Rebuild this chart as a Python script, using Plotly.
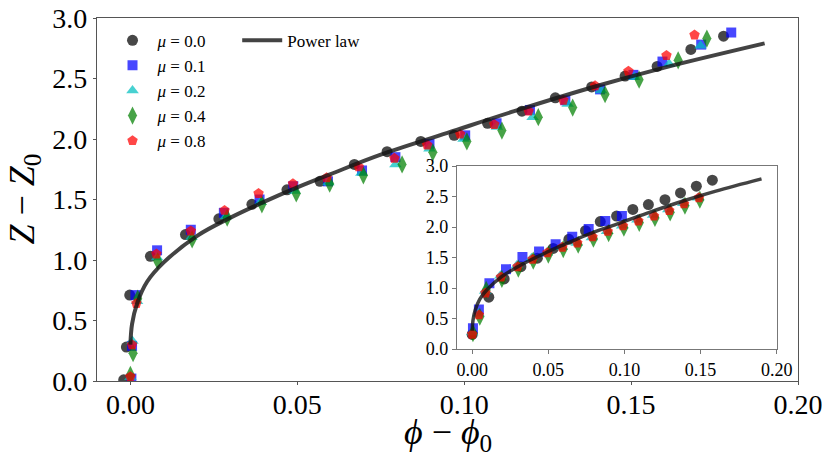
import plotly.graph_objects as go

# main panel data: phi - phi0, Z - Z0
mu_labels = ['0.0', '0.1', '0.2', '0.4', '0.8']

main_x_00 = [-0.002, -0.0012, -0.0002, 0.006, 0.0165, 0.0265, 0.0364, 0.0469, 0.0568, 0.0671, 0.0769,
             0.087, 0.097, 0.107, 0.1173, 0.1273, 0.1382, 0.1482, 0.1578, 0.1679, 0.1777]
main_y_00 = [0.01, 0.28, 0.71, 1.03, 1.21, 1.34, 1.46, 1.58, 1.65, 1.79, 1.895,
             1.98, 2.03, 2.13, 2.23, 2.34, 2.43, 2.52, 2.60, 2.74, 2.85]

main_x_01 = [0.0003, 0.0005, 0.0015, 0.008, 0.0181, 0.028, 0.0387, 0.0488, 0.0592, 0.0694, 0.0794,
             0.0896, 0.1003, 0.1097, 0.1197, 0.1303, 0.1407, 0.1507, 0.1594, 0.171, 0.180]
main_y_01 = [0.02, 0.29, 0.71, 1.08, 1.25, 1.39, 1.50, 1.61, 1.65, 1.74, 1.85,
             1.96, 2.03, 2.13, 2.24, 2.32, 2.41, 2.53, 2.64, 2.78, 2.88]

main_x_02 = [0.0, 0.0006, 0.002, 0.008, 0.0183, 0.0286, 0.039, 0.0492, 0.0593, 0.0692,
             0.0794, 0.0896, 0.0998, 0.1098, 0.1205, 0.131, 0.141, 0.151, 0.1614, 0.1708]
main_y_02 = [0.03, 0.33, 0.66, 1.02, 1.19, 1.36, 1.48, 1.57, 1.64, 1.72,
             1.79, 1.92, 2.00, 2.10, 2.18, 2.29, 2.40, 2.51, 2.62, 2.77]

main_x_04 = [0.0, 0.0008, 0.0022, 0.0082, 0.0185, 0.029, 0.0394, 0.0497, 0.0597, 0.0698,
             0.0814, 0.0906, 0.1008, 0.1113, 0.1222, 0.1325, 0.1422, 0.1524, 0.1641, 0.1727]
main_y_04 = [0.05, 0.23, 0.68, 0.99, 1.17, 1.35, 1.46, 1.55, 1.63, 1.70,
             1.79, 1.89, 1.98, 2.07, 2.18, 2.26, 2.37, 2.49, 2.65, 2.83]

main_x_08 = [0.0, 0.0005, 0.0018, 0.0078, 0.0181, 0.0282, 0.0384, 0.0487, 0.0588, 0.0684,
             0.0791, 0.0889, 0.0988, 0.109, 0.1193, 0.1297, 0.1392, 0.1492, 0.1606, 0.169]
main_y_08 = [0.036, 0.30, 0.64, 1.05, 1.24, 1.41, 1.55, 1.63, 1.68, 1.77,
             1.84, 1.95, 2.04, 2.12, 2.23, 2.32, 2.44, 2.56, 2.69, 2.86]

# inset data
ins_x_00 = [0.0, 0.0109, 0.021, 0.032, 0.0428, 0.0532, 0.0635, 0.0744, 0.0841, 0.0948, 0.1055,
            0.1157, 0.1266, 0.1368, 0.1472, 0.1577]
ins_y_00 = [0.24, 0.85, 1.15, 1.35, 1.49, 1.65, 1.80, 1.94, 2.09, 2.18, 2.29,
            2.37, 2.45, 2.56, 2.67, 2.77]

ins_x_01 = [0.0005, 0.0044, 0.0113, 0.0222, 0.033, 0.0439, 0.0548, 0.0657, 0.0765, 0.0874, 0.0983]
ins_y_01 = [0.34, 0.65, 1.08, 1.31, 1.51, 1.60, 1.72, 1.84, 1.97, 2.10, 2.18]

ins_x_02 = [0.0, 0.0042, 0.0085, 0.0185, 0.0293, 0.039, 0.049, 0.0588, 0.0686, 0.0786, 0.0885,
            0.0985, 0.1085, 0.1188, 0.1288, 0.1386, 0.1484]
ins_y_02 = [0.27, 0.58, 0.95, 1.20, 1.37, 1.49, 1.58, 1.67, 1.74, 1.83, 1.93,
            2.02, 2.12, 2.20, 2.29, 2.39, 2.48]

ins_x_04 = [0.0005, 0.005, 0.0092, 0.0195, 0.0303, 0.0401, 0.05, 0.0598, 0.0696, 0.0796, 0.0896,
            0.0996, 0.1097, 0.12, 0.13, 0.1397, 0.1495]
ins_y_04 = [0.26, 0.53, 0.97, 1.15, 1.32, 1.45, 1.55, 1.64, 1.71, 1.81, 1.90,
            1.99, 2.07, 2.15, 2.24, 2.35, 2.45]

ins_x_08 = [0.0, 0.0044, 0.0087, 0.0189, 0.0298, 0.0396, 0.0494, 0.0592, 0.069, 0.079, 0.089,
            0.099, 0.1091, 0.1194, 0.1294, 0.1391, 0.1489]
ins_y_08 = [0.24, 0.56, 0.92, 1.18, 1.35, 1.47, 1.58, 1.67, 1.74, 1.84, 1.93,
            2.02, 2.10, 2.18, 2.27, 2.38, 2.48]

# power law curve
law_x = [0.0, 0.0005, 0.002, 0.005, 0.010, 0.020, 0.030, 0.040, 0.050, 0.060,
         0.075, 0.095, 0.115, 0.140, 0.160, 0.190]
law_y = [0.30, 0.47, 0.64, 0.82, 0.98, 1.20, 1.35, 1.48, 1.60, 1.71,
         1.87, 2.05, 2.23, 2.44, 2.59, 2.79]

colors = ['#000000', '#0000ff', '#00bfbf', '#008000', '#ff0000']
symbols = ['circle', 'square', 'triangle-up', 'diamond-tall', 'pentagon']
sizes = [11, 10, 11, 13, 11]

main_sets = [(main_x_00, main_y_00), (main_x_01, main_y_01), (main_x_02, main_y_02),
             (main_x_04, main_y_04), (main_x_08, main_y_08)]
ins_sets = [(ins_x_00, ins_y_00), (ins_x_01, ins_y_01), (ins_x_02, ins_y_02),
            (ins_x_04, ins_y_04), (ins_x_08, ins_y_08)]

FONT = 'Liberation Serif'
fig = go.Figure()

for i, (xs, ys) in enumerate(main_sets):
    fig.add_trace(go.Scatter(x=xs, y=ys, mode='markers',
                             name=f'<i>μ</i> = {mu_labels[i]}',
                             marker=dict(color=colors[i], symbol=symbols[i], size=sizes[i],
                                         opacity=0.72, line=dict(width=0))))
fig.add_trace(go.Scatter(x=law_x, y=law_y, mode='lines', name='Power law',
                         line=dict(color='rgba(20,20,20,0.8)', width=4, shape='spline'),
                         legend='legend2'))

for i, (xs, ys) in enumerate(ins_sets):
    fig.add_trace(go.Scatter(x=xs, y=ys, mode='markers', showlegend=False,
                             xaxis='x2', yaxis='y2',
                             marker=dict(color=colors[i], symbol=symbols[i], size=sizes[i],
                                         opacity=0.72, line=dict(width=0))))
fig.add_trace(go.Scatter(x=law_x, y=law_y, mode='lines', showlegend=False,
                         xaxis='x2', yaxis='y2',
                         line=dict(color='rgba(20,20,20,0.8)', width=3.5, shape='spline')))

main_ax = dict(showgrid=False, zeroline=False, showline=True, mirror=True, linecolor='#555',
               linewidth=1.2, ticks='outside', ticklen=3, tickcolor='#555', automargin=False,
               ticklabeloverflow='allow', tickfont=dict(family=FONT, size=28, color='black'))
ins_ax = dict(showgrid=False, zeroline=False, showline=True, mirror=True, linecolor='#777',
              linewidth=1.2, ticks='outside', ticklen=4, tickcolor='#777', automargin=False,
              ticklabeloverflow='allow', tickfont=dict(family=FONT, size=18, color='black'))

# the page body has an 8px margin, so the figure is made 16px smaller
fig.update_layout(
    width=814, height=455,
    margin=dict(l=89, r=24, t=10, b=82),
    plot_bgcolor='white', paper_bgcolor='white',
    font=dict(family=FONT, color='black'),
    xaxis=dict(main_ax, range=[-0.01, 0.20], tickvals=[0, 0.05, 0.10, 0.15, 0.20],
               ticktext=['0.00', '0.05', '0.10', '0.15', '0.20'], ticklabelstandoff=-5),
    yaxis=dict(main_ax, range=[0, 3.0], tickvals=[0, 0.5, 1.0, 1.5, 2.0, 2.5, 3.0],
               ticktext=['0.0', '0.5', '1.0', '1.5', '2.0', '2.5', '3.0']),
    xaxis2=dict(ins_ax, domain=[0.5135, 0.9697], anchor='y2', range=[-0.01, 0.20],
                tickvals=[0, 0.05, 0.10, 0.15, 0.20],
                ticktext=['0.00', '0.05', '0.10', '0.15', '0.20']),
    yaxis2=dict(ins_ax, domain=[0.088, 0.592], anchor='x2', range=[0, 3.0],
                tickvals=[0, 0.5, 1.0, 1.5, 2.0, 2.5, 3.0],
                ticktext=['0.0', '0.5', '1.0', '1.5', '2.0', '2.5', '3.0']),
    legend=dict(x=0.015, y=0.987, xanchor='left', yanchor='top', bgcolor='rgba(0,0,0,0)',
                font=dict(family=FONT, size=17), tracegroupgap=0, itemwidth=40),
    legend2=dict(x=0.2, y=0.987, xanchor='left', yanchor='top', bgcolor='rgba(0,0,0,0)',
                 font=dict(family=FONT, size=17), itemwidth=40),
    annotations=[
        dict(text='<i>ϕ</i> − <i>ϕ</i><sub>0</sub>', xref='paper', yref='paper',
             x=0.5, y=-0.148, xanchor='center', yanchor='middle', showarrow=False,
             font=dict(family=FONT, size=36)),
        dict(text='<i>Z</i> − <i>Z</i><sub>0</sub>', xref='paper', yref='paper',
             x=-0.104, y=0.5, xanchor='center', yanchor='middle', showarrow=False,
             textangle=-90, font=dict(family=FONT, size=36)),
    ],
)

fig.write_html("out.html")
